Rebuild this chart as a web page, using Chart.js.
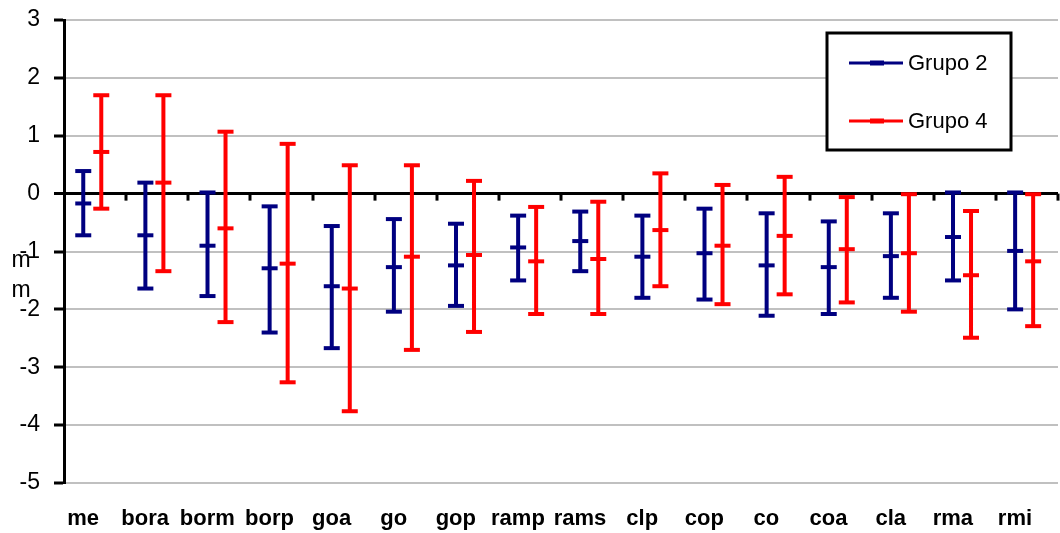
<!DOCTYPE html>
<html>
<head>
<meta charset="utf-8">
<script src="https://cdn.jsdelivr.net/npm/chart.js@4.4.1/dist/chart.umd.min.js"></script>
<style>
  body { margin: 0; background: #fff; }
  #wrap { position: relative; width: 1060px; height: 533px; }
</style>
</head>
<body>
<div id="wrap"><canvas id="grafico"></canvas></div>
<script>
// categorias del eje x
const categorias = ['me', 'bora', 'borm', 'borp', 'goa', 'go', 'gop', 'ramp', 'rams', 'clp', 'cop', 'co', 'coa', 'cla', 'rma', 'rmi'];

// Grupo 2: extremo superior, media, extremo inferior
const g2Alto  = [0.39, 0.19, 0.02, -0.22, -0.56, -0.44, -0.52, -0.38, -0.31, -0.38, -0.26, -0.34, -0.48, -0.34, 0.02, 0.02];
const g2Media = [-0.17, -0.72, -0.90, -1.29, -1.60, -1.27, -1.24, -0.93, -0.82, -1.09, -1.03, -1.24, -1.27, -1.08, -0.75, -0.99];
const g2Bajo  = [-0.72, -1.64, -1.77, -2.40, -2.67, -2.04, -1.94, -1.50, -1.34, -1.80, -1.83, -2.11, -2.08, -1.80, -1.50, -2.00];

// Grupo 4
const g4Alto  = [1.70, 1.70, 1.07, 0.86, 0.49, 0.49, 0.22, -0.23, -0.14, 0.35, 0.15, 0.29, -0.06, -0.01, -0.30, -0.01];
const g4Media = [0.72, 0.19, -0.60, -1.21, -1.64, -1.09, -1.06, -1.17, -1.13, -0.63, -0.90, -0.73, -0.96, -1.03, -1.41, -1.17];
const g4Bajo  = [-0.26, -1.34, -2.22, -3.26, -3.76, -2.70, -2.39, -2.08, -2.08, -1.60, -1.91, -1.74, -1.88, -2.04, -2.49, -2.29];

const etiquetasY = [3, 2, 1, 0, -1, -2, -3, -4, -5];
const tituloY = 'mm';

// cada barra: alto -> media -> bajo, luego un hueco
function barras(alto, media, bajo, desplaz) {
    const pts = [];
    alto.forEach(function(a, i) {
        const x = i + desplaz;
        pts.push({x: x, y: a}, {x: x, y: media[i]}, {x: x, y: bajo[i]}, {x: x, y: null});
    });
    return pts;
}

const gris = '#c0c0c0';
const fuente = '"Liberation Sans", Arial, sans-serif';

const extras = {
    id: 'extras',
    afterDraw(chart) {
        const ctx = chart.ctx;
        const xs = chart.scales.x, ys = chart.scales.y;
        ctx.save();
        // marcas sobre la linea del cero
        const y0 = ys.getPixelForValue(0);
        ctx.strokeStyle = '#000';
        ctx.lineWidth = 3;
        for (let k = 1; k <= categorias.length; k++) {
            const x = Math.round(xs.getPixelForValue(k - 0.5));
            ctx.beginPath();
            ctx.moveTo(x, y0);
            ctx.lineTo(x, y0 + 7);
            ctx.stroke();
        }
        // titulo del eje y, letras apiladas
        ctx.fillStyle = '#000';
        ctx.font = '23px ' + fuente;
        ctx.textAlign = 'center';
        ctx.textBaseline = 'alphabetic';
        tituloY.split('').forEach(function(c, i) {
            ctx.fillText(c, 21, 267 + i * 30);
        });
        // leyenda
        const L = {x: 827, y: 33, w: 184, h: 117};
        ctx.fillStyle = '#fff';
        ctx.fillRect(L.x, L.y, L.w, L.h);
        ctx.strokeStyle = '#000';
        ctx.lineWidth = 3;
        ctx.strokeRect(L.x, L.y, L.w, L.h);
        chart.data.datasets.forEach(function(ds, i) {
            const yy = 63 + i * 58;
            ctx.strokeStyle = ds.borderColor;
            ctx.lineWidth = 3;
            ctx.beginPath();
            ctx.moveTo(849, yy);
            ctx.lineTo(903, yy);
            ctx.stroke();
            ctx.lineWidth = 5;
            ctx.beginPath();
            ctx.moveTo(870, yy);
            ctx.lineTo(884, yy);
            ctx.stroke();
            ctx.fillStyle = '#000';
            ctx.font = '22px ' + fuente;
            ctx.textAlign = 'left';
            ctx.textBaseline = 'middle';
            ctx.fillText(ds.label, 908, yy + 1);
        });
        ctx.restore();
    }
};

const config = {
    type: 'line',
    data: {
        datasets: [{
            label: 'Grupo 2',
            data: barras(g2Alto, g2Media, g2Bajo, -0.19),
            borderColor: '#000080',
            backgroundColor: '#000080',
            borderWidth: 4,
            spanGaps: false,
            pointStyle: 'line',
            pointRadius: 8,
            pointBorderWidth: 4,
            pointBorderColor: '#000080'
        }, {
            label: 'Grupo 4',
            data: barras(g4Alto, g4Media, g4Bajo, 0.1),
            borderColor: '#ff0000',
            backgroundColor: '#ff0000',
            borderWidth: 4,
            spanGaps: false,
            pointStyle: 'line',
            pointRadius: 8,
            pointBorderWidth: 4,
            pointBorderColor: '#ff0000'
        }]
    },
    options: {
        responsive: true,
        maintainAspectRatio: false,
        animation: false,
        events: [],
        layout: { autoPadding: false, padding: { top: 20, right: 2, left: 0, bottom: 0 } },
        scales: {
            x: {
                type: 'linear',
                min: -0.5,
                max: categorias.length - 0.5,
                afterBuildTicks: function(scale) {
                    scale.ticks = categorias.map(function(c, i) { return {value: i}; });
                },
                afterFit: function(scale) {
                    scale.height = 50;
                    scale.paddingLeft = 0;
                    scale.paddingRight = 0;
                },
                grid: { display: false, drawTicks: false },
                border: { display: false },
                ticks: {
                    autoSkip: false,
                    maxRotation: 0,
                    padding: 23,
                    labelOffset: -12,
                    color: '#000',
                    font: { family: fuente, size: 22, weight: 'bold' },
                    callback: function(val) { return categorias[val]; }
                }
            },
            y: {
                min: -5,
                max: 3,
                afterBuildTicks: function(scale) {
                    scale.ticks = etiquetasY.map(function(v) { return {value: v}; });
                },
                afterFit: function(scale) {
                    scale.width = 64;
                    scale.paddingTop = 0;
                    scale.paddingBottom = 0;
                },
                grid: {
                    color: function(c) { return c.tick && c.tick.value === 0 ? '#000' : gris; },
                    lineWidth: function(c) { return c.tick && c.tick.value === 0 ? 3 : 2; },
                    tickColor: '#000',
                    tickLength: 10,
                    tickWidth: 3
                },
                border: { display: true, color: '#000', width: 3 },
                ticks: {
                    padding: 14,
                    color: '#000',
                    font: { family: fuente, size: 23 }
                }
            }
        },
        plugins: {
            legend: { display: false },
            tooltip: { enabled: false }
        }
    },
    plugins: [extras]
};

const miGrafico = new Chart(document.getElementById('grafico'), config);
</script>
</body>
</html>
